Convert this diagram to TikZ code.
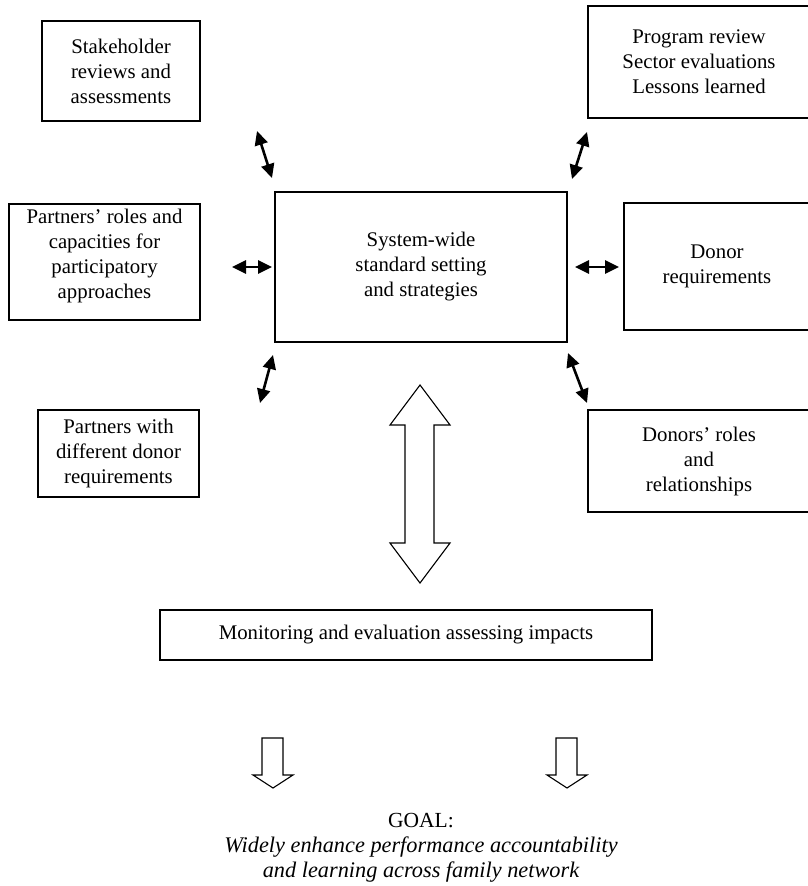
\documentclass[tikz,border=0pt]{standalone}
\usepackage{fontspec}
\setmainfont{Liberation Serif}
\usetikzlibrary{arrows.meta}
\begin{document}
\begin{tikzpicture}[x=1pt,y=-1pt,
  box/.style={draw,line width=1.1pt,align=center,inner sep=0pt,font=\fontsize{20.8}{25}\selectfont},
  dbl/.style={{Triangle[width=13pt,length=14pt]}-{Triangle[width=13pt,length=14pt]},line width=2.6pt},
  fat/.style={draw,line width=1.1pt,fill=white,line join=miter}]
\useasboundingbox (0,0) rectangle (807,886);
% boxes
\node[box,minimum width=158pt,minimum height=100pt] (stake) at (121,71) {Stakeholder\\reviews and\\assessments};
\node[box,minimum width=222pt,minimum height=112pt] (prog) at (699,62) {Program review\\Sector evaluations\\Lessons learned};
\node[box,minimum width=191pt,minimum height=116pt] (proles) at (104.5,262) {Partners’ roles and\\capacities for\\participatory\\approaches\\[-8pt]};
\node[box,minimum width=292pt,minimum height=150pt] (sys) at (421,267) {System-wide\\standard setting\\and strategies};
\node[box,minimum width=186pt,minimum height=127pt] (donreq) at (717,266.5) {Donor\\requirements};
\node[box,minimum width=161pt,minimum height=87pt] (pwith) at (118.5,453.5) {Partners with\\different donor\\requirements};
\node[box,minimum width=222pt,minimum height=102pt] (droles) at (699,461) {Donors’ roles\\and\\relationships};
\node[box,minimum width=492pt,minimum height=50pt] (mon) at (406,635) {Monitoring and evaluation assessing impacts};
% goal
\node[align=center,inner sep=0pt,font=\fontsize{22.3}{25}\selectfont] (goal) at (421,848) {\fontsize{21.5}{25}\selectfont GOAL:\\\itshape Widely enhance performance accountability\\\itshape and learning across family network};
% small double arrows
\coordinate (a1s) at (257,131); \coordinate (a1e) at (272,178);
\coordinate (a2s) at (587,132); \coordinate (a2e) at (572,179);
\coordinate (a3s) at (232,267); \coordinate (a3e) at (272,267);
\coordinate (a4s) at (575,267); \coordinate (a4e) at (619,267);
\coordinate (a5s) at (273,355); \coordinate (a5e) at (260,403);
\coordinate (a6s) at (568,353); \coordinate (a6e) at (587,403);
\draw[dbl] (a1s) -- (a1e);
\draw[dbl] (a2s) -- (a2e);
\draw[dbl] (a3s) -- (a3e);
\draw[dbl] (a4s) -- (a4e);
\draw[dbl] (a5s) -- (a5e);
\draw[dbl] (a6s) -- (a6e);
% big double arrow
\draw[fat] (420,385) -- (450,425) -- (434,425) -- (434,543) -- (450,543) -- (420,583) -- (390,543) -- (405,543) -- (405,425) -- (390,425) -- cycle;
% small down arrows
\draw[fat] (262,738) -- (283,738) -- (283,775) -- (293,775) -- (273,788) -- (253,775) -- (262,775) -- cycle;
\draw[fat] (556,738) -- (577,738) -- (577,775) -- (587,775) -- (567,788) -- (547,775) -- (556,775) -- cycle;
\end{tikzpicture}
\end{document}
